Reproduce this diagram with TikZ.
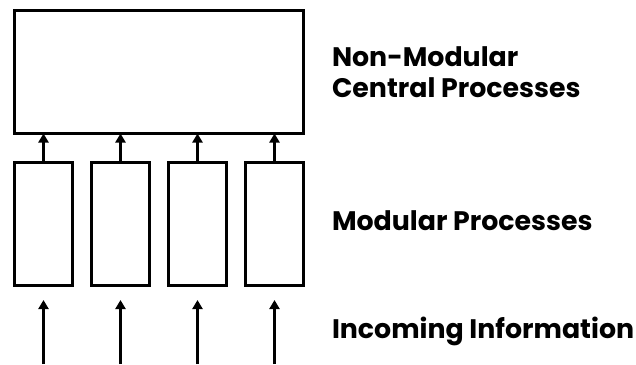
\documentclass[tikz,border=0pt]{standalone}
\usepackage{fontspec}
\setmainfont{Poppins}
\usetikzlibrary{arrows.meta}

\def \globalscale {1.000000}
\tikzset{
  procbox/.style={draw=black, line width=3.6pt},
  upflow/.style={draw=black, line width=3.2pt, -{Triangle[length=9pt, width=10pt]}},
  caption/.style={anchor=base west, font=\fontsize{26.8}{30}\selectfont\bfseries}
}

\begin{document}
\begin{tikzpicture}[y=1pt, x=1pt, yscale=-\globalscale, xscale=\globalscale, inner sep=0pt, outer sep=0pt]
\useasboundingbox (0,0) rectangle (636,364);

\node[procbox, minimum width=289pt, minimum height=123pt] (central) at (159.0,72.0) {};



\node[procbox, minimum width=58pt, minimum height=123pt] (mod1) at (43.5,224.0) {};



\node[procbox, minimum width=58pt, minimum height=123pt] (mod2) at (120.5,224.0) {};



\node[procbox, minimum width=58pt, minimum height=123pt] (mod3) at (197.5,224.0) {};



\node[procbox, minimum width=58pt, minimum height=123pt] (mod4) at (274.5,224.0) {};



\draw[upflow] (mod1.north) -- (mod1.north |- central.south);



\draw[upflow] (mod2.north) -- (mod2.north |- central.south);



\draw[upflow] (mod3.north) -- (mod3.north |- central.south);



\draw[upflow] (mod4.north) -- (mod4.north |- central.south);



\coordinate (in1) at (43.5,364.0);



\coordinate (in2) at (120.5,364.0);



\coordinate (in3) at (197.5,364.0);



\coordinate (in4) at (274.5,364.0);



\draw[upflow, shorten >=14.5pt] (in1) -- (mod1.south);



\draw[upflow, shorten >=14.5pt] (in2) -- (mod2.south);



\draw[upflow, shorten >=14.5pt] (in3) -- (mod3.south);



\draw[upflow, shorten >=14.5pt] (in4) -- (mod4.south);



\node[caption] (centrala) at (332.0,66.0) {Non-Modular};



\node[caption] (centralb) at (332.0,97.0) {Central Processes};



\node[caption] (modular) at (332.0,230.0) {Modular Processes};



\node[caption] (incoming) at (332.0,338.0) {Incoming Information};




\end{tikzpicture}
\end{document}
